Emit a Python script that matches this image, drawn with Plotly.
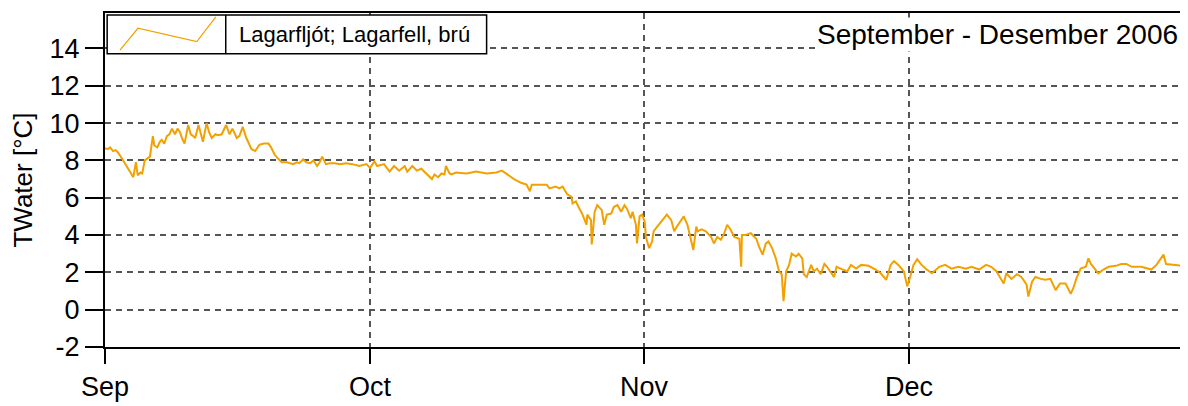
import plotly.graph_objects as go

series_name = "Lagarfljót; Lagarfell, brú"
title_text = "September - Desember 2006"
y_title = "TWater [°C]"

times = [
    "2006-09-01 00:00", "2006-09-01 07:00", "2006-09-01 14:00", "2006-09-01 22:00",
    "2006-09-02 05:00", "2006-09-02 12:00", "2006-09-02 22:00", "2006-09-03 07:00",
    "2006-09-03 14:00", "2006-09-03 19:00", "2006-09-04 00:00", "2006-09-04 05:00",
    "2006-09-04 12:00", "2006-09-04 17:00", "2006-09-05 00:00", "2006-09-05 05:00",
    "2006-09-05 12:00", "2006-09-05 19:00", "2006-09-06 02:00", "2006-09-06 10:00",
    "2006-09-06 14:00", "2006-09-06 22:00", "2006-09-07 05:00", "2006-09-07 10:00",
    "2006-09-07 17:00", "2006-09-08 00:00", "2006-09-08 07:00", "2006-09-08 14:00",
    "2006-09-08 22:00", "2006-09-09 05:00", "2006-09-09 12:00", "2006-09-09 17:00",
    "2006-09-10 00:00", "2006-09-10 10:00", "2006-09-10 17:00", "2006-09-11 00:00",
    "2006-09-11 05:00", "2006-09-11 14:00", "2006-09-11 19:00", "2006-09-12 02:00",
    "2006-09-12 12:00", "2006-09-12 19:00", "2006-09-13 02:00", "2006-09-13 12:00",
    "2006-09-13 19:00", "2006-09-14 05:00", "2006-09-14 17:00", "2006-09-15 02:00",
    "2006-09-15 10:00", "2006-09-15 22:00", "2006-09-16 05:00", "2006-09-16 14:00",
    "2006-09-17 00:00", "2006-09-17 07:00", "2006-09-17 14:00", "2006-09-18 00:00",
    "2006-09-18 12:00", "2006-09-19 00:00", "2006-09-19 12:00", "2006-09-19 19:00",
    "2006-09-20 05:00", "2006-09-20 14:00", "2006-09-21 00:00", "2006-09-21 14:00",
    "2006-09-22 07:00", "2006-09-22 17:00", "2006-09-23 00:00", "2006-09-23 10:00",
    "2006-09-23 19:00", "2006-09-24 05:00", "2006-09-24 14:00", "2006-09-25 00:00",
    "2006-09-25 07:00", "2006-09-25 14:00", "2006-09-26 00:00", "2006-09-26 10:00",
    "2006-09-27 00:00", "2006-09-27 14:00", "2006-09-28 07:00", "2006-09-29 00:00",
    "2006-09-29 19:00", "2006-09-30 14:00",
    "2006-10-01 00:00", "2006-10-01 12:00", "2006-10-01 19:00", "2006-10-02 14:00",
    "2006-10-03 05:00", "2006-10-03 17:00", "2006-10-04 07:00", "2006-10-04 22:00",
    "2006-10-05 05:00", "2006-10-05 19:00", "2006-10-06 07:00", "2006-10-06 19:00",
    "2006-10-07 10:00", "2006-10-08 00:00", "2006-10-08 07:00", "2006-10-08 17:00",
    "2006-10-09 02:00", "2006-10-09 10:00", "2006-10-09 14:00", "2006-10-10 00:00",
    "2006-10-10 05:00", "2006-10-10 17:00", "2006-10-11 22:00", "2006-10-13 00:00",
    "2006-10-14 05:00", "2006-10-15 07:00", "2006-10-15 22:00", "2006-10-16 12:00",
    "2006-10-17 07:00", "2006-10-18 02:00", "2006-10-18 17:00", "2006-10-19 02:00",
    "2006-10-19 07:00", "2006-10-20 05:00", "2006-10-21 00:00", "2006-10-21 07:00",
    "2006-10-22 00:00", "2006-10-22 10:00", "2006-10-22 19:00", "2006-10-23 07:00",
    "2006-10-23 19:00", "2006-10-23 22:00", "2006-10-24 07:00", "2006-10-24 17:00",
    "2006-10-25 00:00", "2006-10-25 12:00", "2006-10-25 14:00", "2006-10-26 00:00",
    "2006-10-26 02:00", "2006-10-26 10:00", "2006-10-26 17:00", "2006-10-27 05:00",
    "2006-10-27 12:00", "2006-10-27 19:00", "2006-10-28 07:00", "2006-10-28 14:00",
    "2006-10-29 00:00", "2006-10-29 10:00", "2006-10-29 19:00", "2006-10-30 02:00",
    "2006-10-30 12:00", "2006-10-30 17:00", "2006-10-31 02:00", "2006-10-31 05:00",
    "2006-10-31 12:00", "2006-10-31 19:00",
    "2006-11-01 02:00", "2006-11-01 05:00", "2006-11-01 14:00", "2006-11-01 22:00",
    "2006-11-02 02:00", "2006-11-02 12:00", "2006-11-02 22:00", "2006-11-03 07:00",
    "2006-11-03 14:00", "2006-11-04 02:00", "2006-11-04 10:00", "2006-11-04 17:00",
    "2006-11-05 05:00", "2006-11-05 12:00", "2006-11-05 22:00", "2006-11-06 07:00",
    "2006-11-06 14:00", "2006-11-06 22:00", "2006-11-07 02:00", "2006-11-07 12:00",
    "2006-11-08 00:00", "2006-11-08 14:00", "2006-11-08 22:00", "2006-11-09 07:00",
    "2006-11-09 17:00", "2006-11-10 02:00", "2006-11-10 10:00", "2006-11-10 19:00",
    "2006-11-11 05:00", "2006-11-11 19:00", "2006-11-12 00:00", "2006-11-12 02:00",
    "2006-11-12 12:00", "2006-11-13 02:00", "2006-11-13 17:00", "2006-11-14 00:00",
    "2006-11-14 10:00", "2006-11-14 19:00", "2006-11-15 02:00", "2006-11-15 12:00",
    "2006-11-15 22:00", "2006-11-16 07:00", "2006-11-16 14:00", "2006-11-16 19:00",
    "2006-11-17 02:00", "2006-11-17 10:00", "2006-11-17 17:00", "2006-11-18 05:00",
    "2006-11-18 12:00", "2006-11-18 22:00", "2006-11-19 02:00", "2006-11-19 10:00",
    "2006-11-19 22:00", "2006-11-20 05:00", "2006-11-20 14:00", "2006-11-21 00:00",
    "2006-11-21 10:00", "2006-11-21 17:00", "2006-11-22 02:00", "2006-11-22 12:00",
    "2006-11-22 19:00", "2006-11-23 10:00", "2006-11-24 00:00", "2006-11-24 10:00",
    "2006-11-25 00:00", "2006-11-25 14:00", "2006-11-26 10:00", "2006-11-27 05:00",
    "2006-11-27 19:00", "2006-11-28 10:00", "2006-11-28 22:00", "2006-11-29 07:00",
    "2006-11-29 19:00", "2006-11-30 10:00", "2006-11-30 19:00",
    "2006-12-01 05:00", "2006-12-01 12:00", "2006-12-01 22:00", "2006-12-02 10:00",
    "2006-12-03 00:00", "2006-12-03 14:00", "2006-12-04 10:00", "2006-12-05 02:00",
    "2006-12-05 19:00", "2006-12-06 14:00", "2006-12-07 10:00", "2006-12-08 02:00",
    "2006-12-08 22:00", "2006-12-09 17:00", "2006-12-10 07:00", "2006-12-10 22:00",
    "2006-12-11 02:00", "2006-12-11 17:00", "2006-12-12 00:00", "2006-12-12 14:00",
    "2006-12-13 05:00", "2006-12-13 17:00", "2006-12-14 07:00", "2006-12-14 12:00",
    "2006-12-14 22:00", "2006-12-15 07:00", "2006-12-15 22:00", "2006-12-16 10:00",
    "2006-12-17 00:00", "2006-12-17 14:00", "2006-12-18 02:00", "2006-12-18 17:00",
    "2006-12-19 07:00", "2006-12-19 14:00", "2006-12-19 22:00", "2006-12-20 10:00",
    "2006-12-21 00:00", "2006-12-21 07:00", "2006-12-21 14:00", "2006-12-22 02:00",
    "2006-12-22 10:00", "2006-12-23 00:00", "2006-12-23 14:00", "2006-12-24 10:00",
    "2006-12-25 00:00", "2006-12-25 14:00", "2006-12-26 05:00", "2006-12-27 07:00",
    "2006-12-28 10:00", "2006-12-29 00:00", "2006-12-29 19:00", "2006-12-30 02:00",
    "2006-12-31 02:00", "2006-12-31 23:00",
]

temps = [
    8.65, 8.6, 8.7, 8.5,
    8.55, 8.4, 8.1, 7.8,
    7.6, 7.4, 7.3, 7.1,
    7.9, 7.2, 7.35, 7.3,
    8.0, 8.1, 8.2, 9.3,
    8.8, 8.7, 9.0, 9.1,
    8.9, 9.3, 9.4, 9.7,
    9.4, 9.7, 9.5, 9.2,
    8.9, 9.9, 9.4, 9.3,
    9.2, 9.9, 9.5, 9.0,
    10.0, 9.5, 9.2, 9.4,
    9.35, 9.4, 9.9, 9.4,
    9.7, 9.2, 9.3, 9.8,
    9.2, 8.9, 8.6, 8.5,
    8.85, 8.9, 8.9, 8.7,
    8.3, 8.1, 7.9, 7.9,
    7.8, 7.9, 7.85, 8.05,
    7.9, 7.85, 8.0, 7.7,
    7.9, 8.2, 7.8, 7.85,
    7.85, 7.8, 7.85, 7.8,
    7.7, 7.8,
    7.6, 7.95, 7.7, 7.8,
    7.4, 7.7, 7.45, 7.7,
    7.4, 7.7, 7.45, 7.55,
    7.25, 7.0, 7.25, 7.1,
    7.3, 7.25, 7.7, 7.3,
    7.25, 7.35, 7.3, 7.4,
    7.3, 7.35, 7.45, 7.25,
    7.0, 6.8, 6.7, 6.35,
    6.7, 6.7, 6.7, 6.5,
    6.6, 6.5, 6.6, 6.2,
    6.05, 5.7, 5.8, 5.4,
    5.15, 4.55, 5.1, 4.8,
    3.5, 5.25, 5.6, 5.35,
    4.55, 5.1, 5.15, 5.5,
    5.6, 5.25, 5.6, 5.4,
    4.9, 5.25, 4.55, 3.55,
    5.0, 5.1,
    4.7, 3.9, 3.3, 3.65,
    4.2, 4.45, 4.7, 4.9,
    5.1, 4.8, 4.2, 4.45,
    4.8, 5.0, 4.55, 3.8,
    3.2, 4.45, 4.2, 4.3,
    4.2, 3.9, 3.55, 3.9,
    3.75, 4.1, 4.55, 4.3,
    3.9, 3.8, 2.3, 4.0,
    4.0, 4.1, 3.8, 3.4,
    2.95, 3.55, 3.65, 3.3,
    2.75, 2.05, 1.9, 0.45,
    2.05, 2.4, 3.0, 2.85,
    3.0, 2.75, 1.9, 1.75,
    2.4, 2.05, 2.2, 1.9,
    2.45, 2.3, 2.05, 1.75,
    2.3, 2.15, 2.05, 2.4,
    2.2, 2.4, 2.35, 2.15,
    1.95, 1.6, 2.4, 2.6,
    2.4, 2.05, 1.25,
    1.9, 2.4, 2.7, 2.4,
    2.15, 1.95, 2.3, 2.4,
    2.2, 2.3, 2.2, 2.3,
    2.15, 2.4, 2.3, 2.05,
    1.9, 1.4, 1.95, 1.65,
    1.9, 1.75, 1.35, 0.7,
    1.5, 1.75, 1.65, 1.6,
    1.65, 1.05, 1.4, 1.4,
    0.85, 1.15, 1.65, 2.2,
    2.3, 2.75, 2.45, 2.15,
    1.95, 2.15, 2.3, 2.35,
    2.45, 2.45, 2.3, 2.3,
    2.15, 2.4, 2.95, 2.45,
    2.4, 2.35,
]

month_ticks = ["2006-09-01", "2006-10-01", "2006-11-01", "2006-12-01"]
month_labels = ["Sep", "Oct", "Nov", "Dec"]
y_ticks = [-2, 0, 2, 4, 6, 8, 10, 12, 14]
y_tick_labels = ["-2", "0", "2", "4", "6", "8", "10", "12", "14"]

LINE_COLOR = "#F2A100"
FONT = "Liberation Sans, Arial, sans-serif"

fig = go.Figure()
fig.add_trace(go.Scatter(
    x=times, y=temps, mode="lines", name=series_name,
    line=dict(color=LINE_COLOR, width=2), showlegend=False,
))

# page body has an 8px default margin; size the figure so the plot lands where the reference has it
fig.update_layout(
    width=1180, height=398,
    margin=dict(l=97, r=3, t=4, b=59),
    paper_bgcolor="white", plot_bgcolor="white",
    font=dict(family=FONT, color="black", size=27),
)
fig.update_xaxes(
    type="date", range=["2006-09-01", "2007-01-01"],
    tickvals=month_ticks, ticktext=month_labels,
    ticks="outside", ticklen=15, tickwidth=2, tickcolor="black",
    showline=True, linecolor="black", linewidth=2, mirror=True,
    showgrid=True, gridcolor="#555555", gridwidth=1.5, griddash="6px,5px",
    tickfont=dict(size=27), zeroline=False,
)
fig.update_yaxes(
    range=[-2, 15.9], tickvals=y_ticks, ticktext=y_tick_labels,
    ticks="outside", ticklen=18, tickwidth=2, tickcolor="black",
    showline=True, linecolor="black", linewidth=2, mirror=True,
    showgrid=True, gridcolor="#555555", gridwidth=1.5, griddash="6px,5px",
    tickfont=dict(size=27), zeroline=False,
    title=dict(text=y_title, font=dict(size=26), standoff=13),
)

# custom legend box (top-left, inside plot)
fig.add_shape(type="rect", xref="paper", yref="paper",
              x0=0.002, x1=0.354, y0=0.878, y1=0.994,
              fillcolor="white", line=dict(color="black", width=1.5), layer="above")
fig.add_shape(type="line", xref="paper", yref="paper",
              x0=0.112, x1=0.112, y0=0.878, y1=0.994,
              line=dict(color="black", width=1.5), layer="above")
fig.add_shape(type="path", xref="paper", yref="paper",
              path="M 0.0139,0.8887 L 0.0306,0.9543 L 0.0852,0.9143 L 0.1028,0.9881",
              line=dict(color=LINE_COLOR, width=1.2), layer="above")
fig.add_annotation(xref="paper", yref="paper", x=0.122, y=0.937,
                   xanchor="left", yanchor="middle", showarrow=False,
                   text=series_name, font=dict(size=22, family=FONT, color="black"))
fig.add_annotation(xref="paper", yref="paper", x=0.997, y=0.937,
                   xanchor="right", yanchor="middle", showarrow=False,
                   text=title_text, bgcolor="white",
                   font=dict(size=28, family=FONT, color="black"))

fig.write_html("out.html")
